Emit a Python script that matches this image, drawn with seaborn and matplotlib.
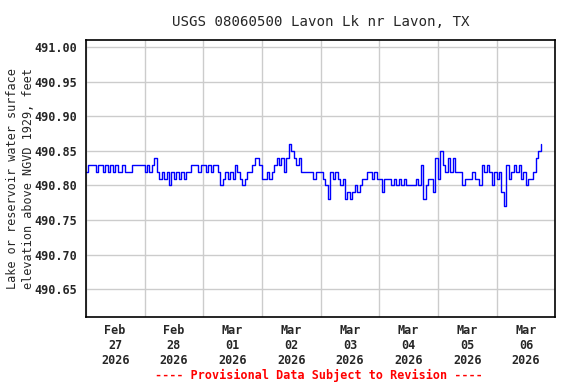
import pandas as pd
import matplotlib.pyplot as plt
import matplotlib.dates as mdates
import seaborn as sns

# Nivel del lago (pies), una lectura por hora
feb27 = [490.82, 490.83, 490.83, 490.83, 490.82, 490.83, 490.83, 490.82,
         490.83, 490.82, 490.83, 490.82, 490.83, 490.82, 490.82, 490.83,
         490.82, 490.82, 490.82, 490.83, 490.83, 490.83, 490.83, 490.83]
feb28 = [490.82, 490.83, 490.82, 490.83, 490.84, 490.82, 490.81, 490.82,
         490.81, 490.82, 490.80, 490.82, 490.81, 490.82, 490.81, 490.82,
         490.81, 490.82, 490.82, 490.83, 490.83, 490.83, 490.82, 490.83]
mar01 = [490.83, 490.82, 490.83, 490.82, 490.83, 490.83, 490.82, 490.80,
         490.81, 490.82, 490.81, 490.82, 490.81, 490.83, 490.82, 490.81,
         490.80, 490.81, 490.82, 490.82, 490.83, 490.84, 490.84, 490.83]
mar02 = [490.81, 490.81, 490.82, 490.81, 490.82, 490.83, 490.84, 490.83,
         490.84, 490.82, 490.84, 490.86, 490.85, 490.84, 490.83, 490.84,
         490.82, 490.82, 490.82, 490.82, 490.82, 490.81, 490.82, 490.82]
mar03 = [490.82, 490.81, 490.80, 490.78, 490.82, 490.81, 490.82, 490.81,
         490.80, 490.81, 490.78, 490.79, 490.78, 490.79, 490.80, 490.79,
         490.80, 490.81, 490.81, 490.82, 490.82, 490.81, 490.82, 490.81]
mar04 = [490.81, 490.79, 490.81, 490.81, 490.81, 490.80, 490.81, 490.80,
         490.81, 490.80, 490.81, 490.80, 490.80, 490.80, 490.80, 490.81,
         490.80, 490.83, 490.78, 490.80, 490.81, 490.81, 490.79, 490.84]
mar05 = [490.81, 490.85, 490.83, 490.82, 490.84, 490.82, 490.84, 490.82,
         490.82, 490.82, 490.80, 490.81, 490.81, 490.81, 490.82, 490.81,
         490.81, 490.80, 490.83, 490.82, 490.83, 490.82, 490.80, 490.82]
mar06 = [490.81, 490.82, 490.79, 490.77, 490.83, 490.81, 490.82, 490.83,
         490.82, 490.83, 490.81, 490.82, 490.80, 490.81, 490.81, 490.82,
         490.84, 490.85, 490.86]

yticks = [490.65, 490.70, 490.75, 490.80, 490.85, 490.90, 490.95, 491.00]

sns.set_style('white')
plt.rcParams['font.family'] = ['DejaVu Sans Mono']
plt.rcParams['font.weight'] = 'bold'
plt.rcParams['font.size'] = 8.5

niveles = feb27 + feb28 + mar01 + mar02 + mar03 + mar04 + mar05 + mar06
fechas = pd.date_range('2026-02-27 00:00', periods=len(niveles), freq='h')
df = pd.DataFrame({'Fecha': fechas, 'Nivel': niveles})

fig = plt.figure(figsize=(5.76, 3.84), dpi=100)
ax = fig.add_axes([0.149, 0.174, 0.815, 0.722])

sns.lineplot(data=df, x='Fecha', y='Nivel', ax=ax, estimator=None,
             color='#0000ff', linewidth=1, drawstyle='steps-post')

ax.set_xlim(pd.Timestamp('2026-02-27'), pd.Timestamp('2026-03-07'))
ax.set_ylim(490.61, 491.01)
ax.set_yticks(yticks)
ax.set_yticklabels(['%.2f' % v for v in yticks])

ax.xaxis.set_major_locator(mdates.HourLocator(byhour=12))
ax.xaxis.set_major_formatter(mdates.DateFormatter('%b\n%d\n%Y'))
ax.xaxis.set_minor_locator(mdates.DayLocator())

ax.grid(True, which='minor', axis='x', color='#cccccc', linewidth=1)
ax.grid(True, which='major', axis='y', color='#cccccc', linewidth=1)
ax.grid(False, which='major', axis='x')
ax.tick_params(axis='both', which='both', length=0, pad=6)
ax.tick_params(axis='x', pad=5)
for s in ax.spines.values():
    s.set_color('black')
    s.set_linewidth(1.2)

ax.set_xlabel('')
ax.set_ylabel('Lake or reservoir water surface\nelevation above NGVD 1929, feet',
              linespacing=1.3, labelpad=0)
ax.set_title('USGS 08060500 Lavon Lk nr Lavon, TX', pad=10)

fig.text(0.553, 1 - 375 / 384, '---- Provisional Data Subject to Revision ----',
         color='red', ha='center', va='center')

fig.savefig('out.png', dpi=100)
